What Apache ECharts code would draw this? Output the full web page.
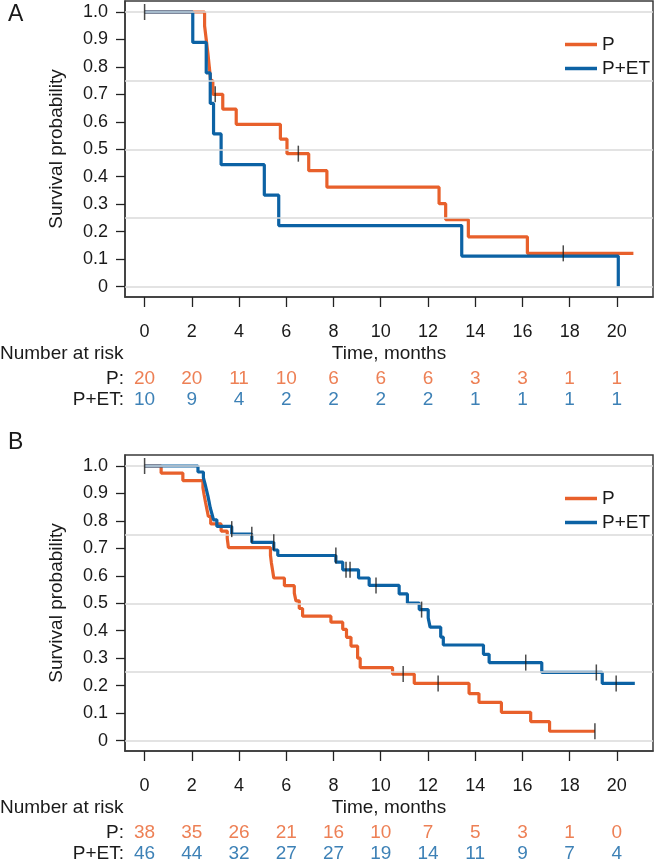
<!DOCTYPE html>
<html>
<head>
<meta charset="utf-8">
<script src="https://cdn.jsdelivr.net/npm/echarts@6/dist/echarts.min.js"></script>
<style>html,body{margin:0;padding:0;background:#fff;}#c{width:656px;height:868px;}</style>
</head>
<body>
<div id="c"></div>
<script>
// ---------- Data ----------
const seriesNames = ['P', 'P+ET'];
const xTicks = [0, 2, 4, 6, 8, 10, 12, 14, 16, 18, 20];
const yTicks = [0, 0.1, 0.2, 0.3, 0.4, 0.5, 0.6, 0.7, 0.8, 0.9, 1.0];
const gridValues = [0, 0.25, 0.5, 0.75, 1.0];
const riskRows = ['P+ET:', 'P:'];

// Panel A
const timeA_P = [0, 2.54, 2.61, 2.68, 2.74, 2.80, 2.89, 3.31, 3.88, 5.75, 6.03, 6.95, 7.72, 12.47, 12.75, 13.71, 16.21, 20.7];
const survA_P = [1.0, 0.95, 0.90, 0.85, 0.80, 0.75, 0.70, 0.646, 0.591, 0.537, 0.484, 0.422, 0.362, 0.302, 0.244, 0.181, 0.121, 0.121];
const timeA_ET = [0, 2.04, 2.61, 2.78, 2.92, 3.24, 5.07, 5.68, 13.43, 20.06];
const survA_ET = [1.0, 0.889, 0.778, 0.667, 0.556, 0.444, 0.333, 0.222, 0.111, 0];
const censorA_t = [0, 2.99, 6.51, 17.73];
const censorA_s = [1.0, 0.70, 0.484, 0.121];
const riskA_P = [20, 20, 11, 10, 6, 6, 6, 3, 3, 1, 1];
const riskA_ET = [10, 9, 4, 2, 2, 2, 2, 1, 1, 1, 1];

// Panel B
const timeB_P = [0, 0.70, 1.62, 2.47, 2.52, 2.58, 2.64, 2.70, 2.80, 3.24, 3.50, 3.55, 5.33, 5.37, 5.42, 5.47, 5.92, 6.34, 6.41, 6.55, 6.69, 7.89, 8.39, 8.55, 8.74, 9.02, 9.13, 10.50, 11.42, 13.74, 14.16, 15.11, 16.35, 17.15, 19.07];
const survB_P = [1.0, 0.974, 0.947, 0.921, 0.895, 0.868, 0.842, 0.816, 0.789, 0.763, 0.737, 0.703, 0.675, 0.647, 0.620, 0.592, 0.564, 0.537, 0.509, 0.481, 0.453, 0.431, 0.405, 0.376, 0.344, 0.300, 0.266, 0.242, 0.208, 0.171, 0.139, 0.103, 0.069, 0.034, 0.034];
const timeB_ET = [0, 2.26, 2.49, 2.56, 2.62, 2.68, 2.73, 2.78, 2.85, 2.92, 3.06, 3.69, 4.54, 5.47, 5.64, 8.10, 8.39, 9.06, 9.51, 10.78, 11.13, 11.63, 12.01, 12.09, 12.54, 12.65, 14.35, 14.59, 16.82, 19.38, 20.76];
const survB_ET = [1.0, 0.978, 0.957, 0.935, 0.913, 0.891, 0.870, 0.848, 0.826, 0.804, 0.780, 0.752, 0.722, 0.694, 0.674, 0.650, 0.622, 0.592, 0.565, 0.534, 0.501, 0.477, 0.447, 0.413, 0.377, 0.348, 0.314, 0.284, 0.248, 0.208, 0.208];
const censorB_t = [0, 3.69, 4.54, 5.47, 8.10, 8.53, 8.70, 9.80, 10.95, 11.73, 12.43, 16.14, 19.07, 19.13, 19.97];
const censorB_s = [1.0, 0.77, 0.75, 0.722, 0.674, 0.622, 0.622, 0.565, 0.242, 0.477, 0.208, 0.284, 0.034, 0.248, 0.208];
const riskB_P = [38, 35, 26, 21, 16, 10, 7, 5, 3, 1, 0];
const riskB_ET = [46, 44, 32, 27, 27, 19, 14, 11, 9, 7, 4];

// ---------- Styling ----------
const ORANGE = '#E8602B';
const BLUE = '#0C62A4';
const FONT = "'Liberation Sans', Arial, Helvetica, sans-serif";
const TXT = '#1a1a1a';
const FRAME = '#3a3a3a';
const XMIN = -0.83, XMAX = 21.53, YMIN = -0.038, YMAX = 1.04;
const OFF = 454;

const pairs = (t, s) => t.map((v, i) => [v, s[i]]);

function plotAxes(gi) {
  const x = {
    gridIndex: gi, type: 'value', min: XMIN, max: XMAX, position: 'bottom',
    axisLine: {show: true, onZero: false, lineStyle: {color: FRAME, width: 1.5}},
    axisTick: {show: true, inside: false, customValues: xTicks, length: 10, lineStyle: {color: '#222', width: 1.3}},
    axisLabel: {customValues: xTicks, fontSize: 18, color: TXT, fontFamily: FONT, margin: 26},
    splitLine: {show: false},
    name: 'Time, months', nameLocation: 'middle', nameGap: 47,
    nameTextStyle: {fontSize: 19, color: TXT, fontFamily: FONT}
  };
  const y = {
    gridIndex: gi, type: 'value', min: YMIN, max: YMAX, position: 'left',
    axisLine: {show: true, onZero: false, lineStyle: {color: FRAME, width: 1.5}},
    axisTick: {show: true, inside: false, customValues: yTicks, length: 9, lineStyle: {color: '#222', width: 1.3}},
    axisLabel: {customValues: yTicks, fontSize: 18, color: TXT, fontFamily: FONT, margin: 17,
      formatter: v => (Math.abs(v) < 1e-9 ? '0' : v.toFixed(1))},
    splitLine: {show: false},
    name: 'Survival probability', nameLocation: 'middle', nameGap: 59, nameRotate: 90,
    nameTextStyle: {fontSize: 19, color: TXT, fontFamily: FONT}
  };
  return [x, y];
}
function riskAxes(gi) {
  const x = {gridIndex: gi, type: 'value', min: XMIN, max: XMAX, show: false};
  const y = {gridIndex: gi, type: 'category', data: riskRows, position: 'left',
    axisLine: {show: false, onZero: false}, axisTick: {show: false},
    axisLabel: {interval: 0, fontSize: 19, color: TXT, fontFamily: FONT, margin: 1}};
  return [x, y];
}

const [xa0, ya0] = plotAxes(0);
const [xa1, ya1] = riskAxes(1);
const [xa2, ya2] = plotAxes(2);
const [xa3, ya3] = riskAxes(3);

function kmSeries(name, t, s, ai, color) {
  return {name: name, type: 'line', step: 'end', xAxisIndex: ai, yAxisIndex: ai,
    data: pairs(t, s), showSymbol: false, symbol: 'none', z: 3,
    lineStyle: {color: color, width: 3.2}, itemStyle: {color: color}};
}
function censorSeries(t, s, ai) {
  return {name: 'censor', type: 'scatter', xAxisIndex: ai, yAxisIndex: ai,
    data: pairs(t, s), symbol: 'rect', symbolSize: [1.5, 16], z: 5,
    itemStyle: {color: '#1e1e1e'}};
}
function gridSeries(ai) {
  return {name: 'grid', type: 'line', xAxisIndex: ai, yAxisIndex: ai, data: [[0, 1]],
    showSymbol: false, lineStyle: {opacity: 0}, z: 1, silent: true,
    markLine: {silent: true, symbol: ['none', 'none'], label: {show: false},
      lineStyle: {color: '#dadada', width: 1.5, type: 'solid'},
      data: gridValues.map(v => ({yAxis: v}))}};
}
function riskSeries(values, row, ai, color) {
  return {name: 'risk', type: 'scatter', xAxisIndex: ai, yAxisIndex: ai,
    data: xTicks.map((t, i) => [t, row, values[i]]), symbolSize: 0,
    itemStyle: {color: 'transparent'},
    label: {show: true, position: 'inside', formatter: p => String(p.value[2]),
      color: color, fontSize: 19, fontFamily: FONT}};
}

const legendCommon = {orient: 'vertical', icon: 'rect', itemWidth: 32, itemHeight: 3.5, itemGap: 5,
  data: seriesNames, selectedMode: false,
  textStyle: {fontSize: 19, color: TXT, fontFamily: FONT}};

const option = {
  animation: false,
  backgroundColor: '#fff',
  textStyle: {fontFamily: FONT},
  grid: [
    {left: 125, top: 1, width: 528, height: 296, show: true, borderColor: FRAME, borderWidth: 1.5, backgroundColor: 'transparent'},
    {left: 125, top: 368.5, width: 528, height: 42},
    {left: 125, top: 1 + OFF, width: 528, height: 296, show: true, borderColor: FRAME, borderWidth: 1.5, backgroundColor: 'transparent'},
    {left: 125, top: 368.5 + OFF, width: 528, height: 42}
  ],
  xAxis: [xa0, xa1, xa2, xa3],
  yAxis: [ya0, ya1, ya2, ya3],
  legend: [
    Object.assign({left: 560, top: 30}, legendCommon),
    Object.assign({left: 560, top: 30 + OFF}, legendCommon)
  ],
  graphic: [
    {type: 'text', left: 8, top: 3, style: {text: 'A', fontSize: 23, fill: TXT, fontFamily: FONT}},
    {type: 'text', left: 8, top: 3 + OFF - 26, style: {text: 'B', fontSize: 23, fill: TXT, fontFamily: FONT}},
    {type: 'text', left: 0, top: 344, style: {text: 'Number at risk', fontSize: 19, fill: TXT, fontFamily: FONT}},
    {type: 'text', left: 0, top: 344 + OFF, style: {text: 'Number at risk', fontSize: 19, fill: TXT, fontFamily: FONT}}
  ],
  series: [
    gridSeries(0),
    kmSeries('P', timeA_P, survA_P, 0, ORANGE),
    kmSeries('P+ET', timeA_ET, survA_ET, 0, BLUE),
    censorSeries(censorA_t, censorA_s, 0),
    riskSeries(riskA_P, 'P:', 1, ORANGE),
    riskSeries(riskA_ET, 'P+ET:', 1, BLUE),
    gridSeries(2),
    kmSeries('P', timeB_P, survB_P, 2, ORANGE),
    kmSeries('P+ET', timeB_ET, survB_ET, 2, BLUE),
    censorSeries(censorB_t, censorB_s, 2),
    riskSeries(riskB_P, 'P:', 3, ORANGE),
    riskSeries(riskB_ET, 'P+ET:', 3, BLUE)
  ]
};

const chart = echarts.init(document.getElementById('c'), null, {renderer: 'canvas'});
chart.setOption(option);
</script>
</body>
</html>
